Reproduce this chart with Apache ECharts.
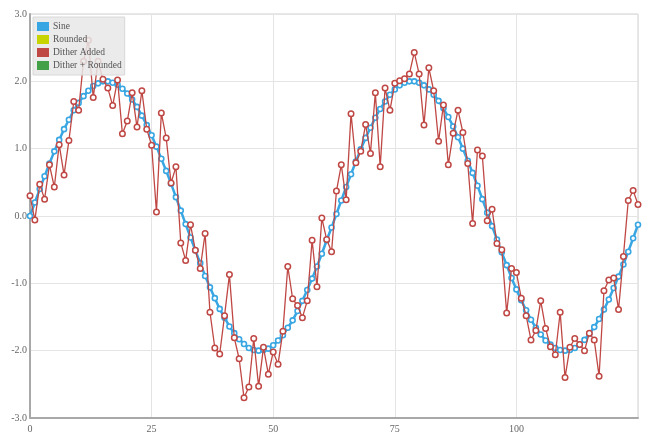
<!DOCTYPE html>
<html>
<head>
<meta charset="utf-8">
<script src="https://cdn.jsdelivr.net/npm/echarts@6/dist/echarts.min.js"></script>
<style>
  html, body { margin: 0; padding: 0; background: #fff; }
  #chart { width: 645px; height: 436px; }
</style>
</head>
<body>
<div id="chart"></div>
<script>
// Sample index along the x axis
const xValues = Array.from({ length: 126 }, (_, i) => i);

// Clean signal
const sineValues = [
  0.00, 0.20, 0.40, 0.59, 0.78, 0.96, 1.13, 1.29, 1.43, 1.57,
  1.68, 1.78, 1.86, 1.93, 1.97, 2.00, 2.00, 1.98, 1.95, 1.89,
  1.82, 1.73, 1.62, 1.49, 1.35, 1.20, 1.03, 0.85, 0.67, 0.48,
  0.28, 0.08, -0.12, -0.32, -0.51, -0.70, -0.89, -1.06, -1.22, -1.38,
  -1.51, -1.64, -1.74, -1.83, -1.90, -1.96, -1.99, -2.00, -1.99, -1.97,
  -1.92, -1.85, -1.77, -1.66, -1.55, -1.41, -1.26, -1.10, -0.93, -0.75,
  -0.56, -0.36, -0.17, 0.03, 0.23, 0.43, 0.62, 0.81, 0.99, 1.16,
  1.31, 1.46, 1.59, 1.70, 1.80, 1.88, 1.94, 1.98, 2.00, 2.00,
  1.98, 1.94, 1.88, 1.80, 1.71, 1.60, 1.47, 1.33, 1.17, 1.00,
  0.82, 0.64, 0.45, 0.25, 0.05, -0.15, -0.35, -0.54, -0.73, -0.92,
  -1.09, -1.25, -1.40, -1.54, -1.66, -1.76, -1.85, -1.91, -1.96, -1.99,
  -2.00, -1.99, -1.96, -1.91, -1.84, -1.75, -1.65, -1.53, -1.39, -1.24,
  -1.07, -0.90, -0.72, -0.53, -0.33, -0.13
];

// Signal with dither noise added
const ditherValues = [
  0.30, -0.06, 0.47, 0.25, 0.76, 0.43, 1.06, 0.61, 1.12, 1.70,
  1.57, 2.30, 2.61, 1.76, 2.30, 2.03, 1.90, 1.64, 2.02, 1.22,
  1.41, 1.83, 1.32, 1.86, 1.29, 1.05, 0.06, 1.53, 1.16, 0.49,
  0.73, -0.40, -0.66, -0.13, -0.51, -0.78, -0.26, -1.43, -1.96, -2.05,
  -1.48, -0.87, -1.81, -2.12, -2.70, -2.54, -1.82, -2.53, -1.95, -2.35,
  -2.02, -2.20, -1.71, -0.75, -1.23, -1.33, -1.51, -1.26, -0.36, -1.05,
  -0.03, -0.35, -0.53, 0.37, 0.76, 0.24, 1.52, 0.79, 0.96, 1.36,
  0.93, 1.83, 0.73, 1.90, 1.57, 1.97, 2.01, 2.04, 2.11, 2.43,
  2.11, 1.35, 2.20, 1.86, 1.11, 1.65, 0.76, 1.23, 1.57, 1.24,
  0.78, -0.11, 0.98, 0.89, -0.07, 0.10, -0.41, -0.50, -1.44, -0.78,
  -0.84, -1.22, -1.48, -1.84, -1.70, -1.26, -1.67, -1.94, -2.06, -1.43,
  -2.40, -1.95, -1.82, -1.91, -2.00, -1.74, -1.84, -2.38, -1.11, -0.95,
  -0.92, -1.39, -0.60, 0.23, 0.38, 0.17
];

const seriesNames = ['Sine', 'Rounded', 'Dither Added', 'Dither + Rounded'];
const seriesColors = ['#38a6e2', '#c8d400', '#bf4744', '#43a047'];

const FONT = '"Liberation Serif", "DejaVu Serif", serif';

const pair = (vals) => vals.map((v, i) => [xValues[i], v]);

const chart = echarts.init(document.getElementById('chart'), null, { renderer: 'canvas' });

chart.setOption({
  animation: false,
  backgroundColor: '#ffffff',
  color: seriesColors,
  grid: { left: 30, right: 7, top: 14, bottom: 18, show: true, borderColor: '#d0d0d0', borderWidth: 1, backgroundColor: 'transparent' },
  legend: {
    // solid colour swatches for every entry
    data: seriesNames.map((name, i) => ({
      name,
      icon: 'rect',
      itemStyle: { color: seriesColors[i], borderWidth: 0, opacity: 1 },
      lineStyle: { opacity: 0 }
    })),
    orient: 'vertical',
    left: 33,
    top: 17,
    itemWidth: 12,
    itemHeight: 9,
    itemGap: 2,
    padding: [4, 3, 4, 4],
    backgroundColor: 'rgba(232,232,232,0.85)',
    borderColor: '#d8d8d8',
    borderWidth: 1,
    textStyle: { fontFamily: FONT, fontSize: 9.5, lineHeight: 11, color: '#555', padding: [0, 0, 0, -1] }
  },
  xAxis: {
    type: 'value',
    min: 0,
    max: 125,
    interval: 25,
    axisLine: { show: true, onZero: false, lineStyle: { color: '#a8a8a8', width: 2 } },
    axisTick: { show: false },
    axisLabel: { showMaxLabel: false, fontFamily: FONT, fontSize: 10, color: '#666', margin: 6 },
    splitLine: { show: true, lineStyle: { color: '#e4e4e4', width: 1 } }
  },
  yAxis: {
    type: 'value',
    min: -3,
    max: 3,
    interval: 1,
    axisLine: { show: true, onZero: false, lineStyle: { color: '#a8a8a8', width: 2 } },
    axisTick: { show: false },
    axisLabel: { fontFamily: FONT, fontSize: 10, color: '#666', margin: 3, formatter: (v) => v.toFixed(1) },
    splitLine: { show: true, lineStyle: { color: '#e4e4e4', width: 1 } }
  },
  series: [
    {
      name: 'Sine', type: 'line', data: pair(sineValues),
      symbol: 'circle', symbolSize: 5, showSymbol: true,
      lineStyle: { color: seriesColors[0], width: 2.5 },
      itemStyle: { color: '#ffffff', borderColor: seriesColors[0], borderWidth: 1.6 },
      z: 2
    },
    { name: 'Rounded', type: 'line', data: [], itemStyle: { color: seriesColors[1] } },
    {
      name: 'Dither Added', type: 'line', data: pair(ditherValues),
      symbol: 'circle', symbolSize: 5.5, showSymbol: true,
      lineStyle: { color: seriesColors[2], width: 1.3 },
      itemStyle: { color: '#ffffff', borderColor: seriesColors[2], borderWidth: 1.5 },
      z: 3
    },
    { name: 'Dither + Rounded', type: 'line', data: [], itemStyle: { color: seriesColors[3] } }
  ]
});
</script>
</body>
</html>
